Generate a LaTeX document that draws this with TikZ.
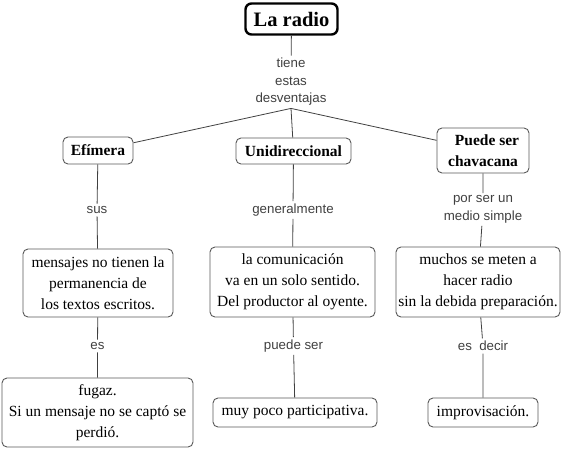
\documentclass[tikz,border=0pt]{standalone}
\usepackage{fontspec}
\setmainfont{Liberation Serif}
\newfontfamily\linkfont{Liberation Sans}
\begin{document}
\begin{tikzpicture}[x=1pt,y=-1pt,
  concept/.style={draw=black!65,line width=0.9pt,rounded corners=5pt,fill=white,
    align=center,inner sep=0pt,font=\fontsize{15.5}{21}\selectfont},
  boldconcept/.style={concept,font=\fontsize{15.5}{21}\selectfont\bfseries},
  rootconcept/.style={draw=black,line width=2.4pt,rounded corners=6pt,inner sep=0pt,
    font=\fontsize{20.5}{24}\selectfont\bfseries},
  linkphrase/.style={align=center,inner sep=2.5pt,text=black!75,
    font=\linkfont\fontsize{13.3}{17.5}\selectfont},
  conn/.style={draw=black!75,line width=0.8pt}]
\useasboundingbox (0,0) rectangle (570,448);
% concepts
\node[rootconcept,minimum width=92pt,minimum height=31pt] (radio) at (291.5,19) {La radio};
\node[boldconcept,minimum width=70pt,minimum height=27pt] (efimera) at (98,150.5) {Efímera};
\node[boldconcept,minimum width=115pt,minimum height=26pt] (unidir) at (293.5,151) {Unidireccional};
\node[boldconcept,minimum width=92pt,minimum height=45pt] (puede) at (483,150.5) {\hspace*{8pt}Puede ser\\chavacana};
\node[concept,minimum width=150pt,minimum height=68pt] (mensajes) at (98,283) {mensajes no tienen la\\permanencia de\\los textos escritos.};
\node[concept,minimum width=165pt,minimum height=70pt] (comunic) at (292.5,282) {la comunicación\\va en un solo sentido.\\Del productor al oyente.};
\node[concept,minimum width=164pt,minimum height=70pt] (muchos) at (478,282) {muchos se meten a\\hacer radio\\sin la debida preparación.};
\node[concept,minimum width=191pt,minimum height=69pt] (fugaz) at (97.5,412.5) {fugaz.\\Si un mensaje no se captó se\\perdió.};
\node[concept,minimum width=164pt,minimum height=29pt] (muypoco) at (295,412.5) {muy poco participativa.};
\node[concept,minimum width=110pt,minimum height=29pt] (improv) at (483,412.5) {improvisación.};
% linking phrases
\node[linkphrase] (desv) at (291,82) {tiene\\estas\\desventajas};
\node[linkphrase] (sus) at (97,210) {sus};
\node[linkphrase] (gen) at (293,210) {generalmente};
\node[linkphrase] (porser) at (483,209.5) {por ser un\\medio simple};
\node[linkphrase] (es) at (97.5,346) {es};
\node[linkphrase] (puedeser) at (293.5,346) {puede ser};
\node[linkphrase] (esdecir) at (483,346) {es\ \ decir};
% connectors
\draw[conn] (radio) -- (desv);
\draw[conn] (desv.south) -- (efimera);
\draw[conn] (desv.south) -- (unidir);
\draw[conn] (desv.south) -- (puede);
\draw[conn] (efimera) -- (sus) -- (mensajes);
\draw[conn] (unidir) -- (gen) -- (comunic);
\draw[conn] (puede) -- (porser) -- (muchos);
\draw[conn] (mensajes) -- (es) -- (fugaz);
\draw[conn] (comunic) -- (puedeser) -- (muypoco);
\draw[conn] (muchos) -- (esdecir) -- (improv);
\end{tikzpicture}
\end{document}
